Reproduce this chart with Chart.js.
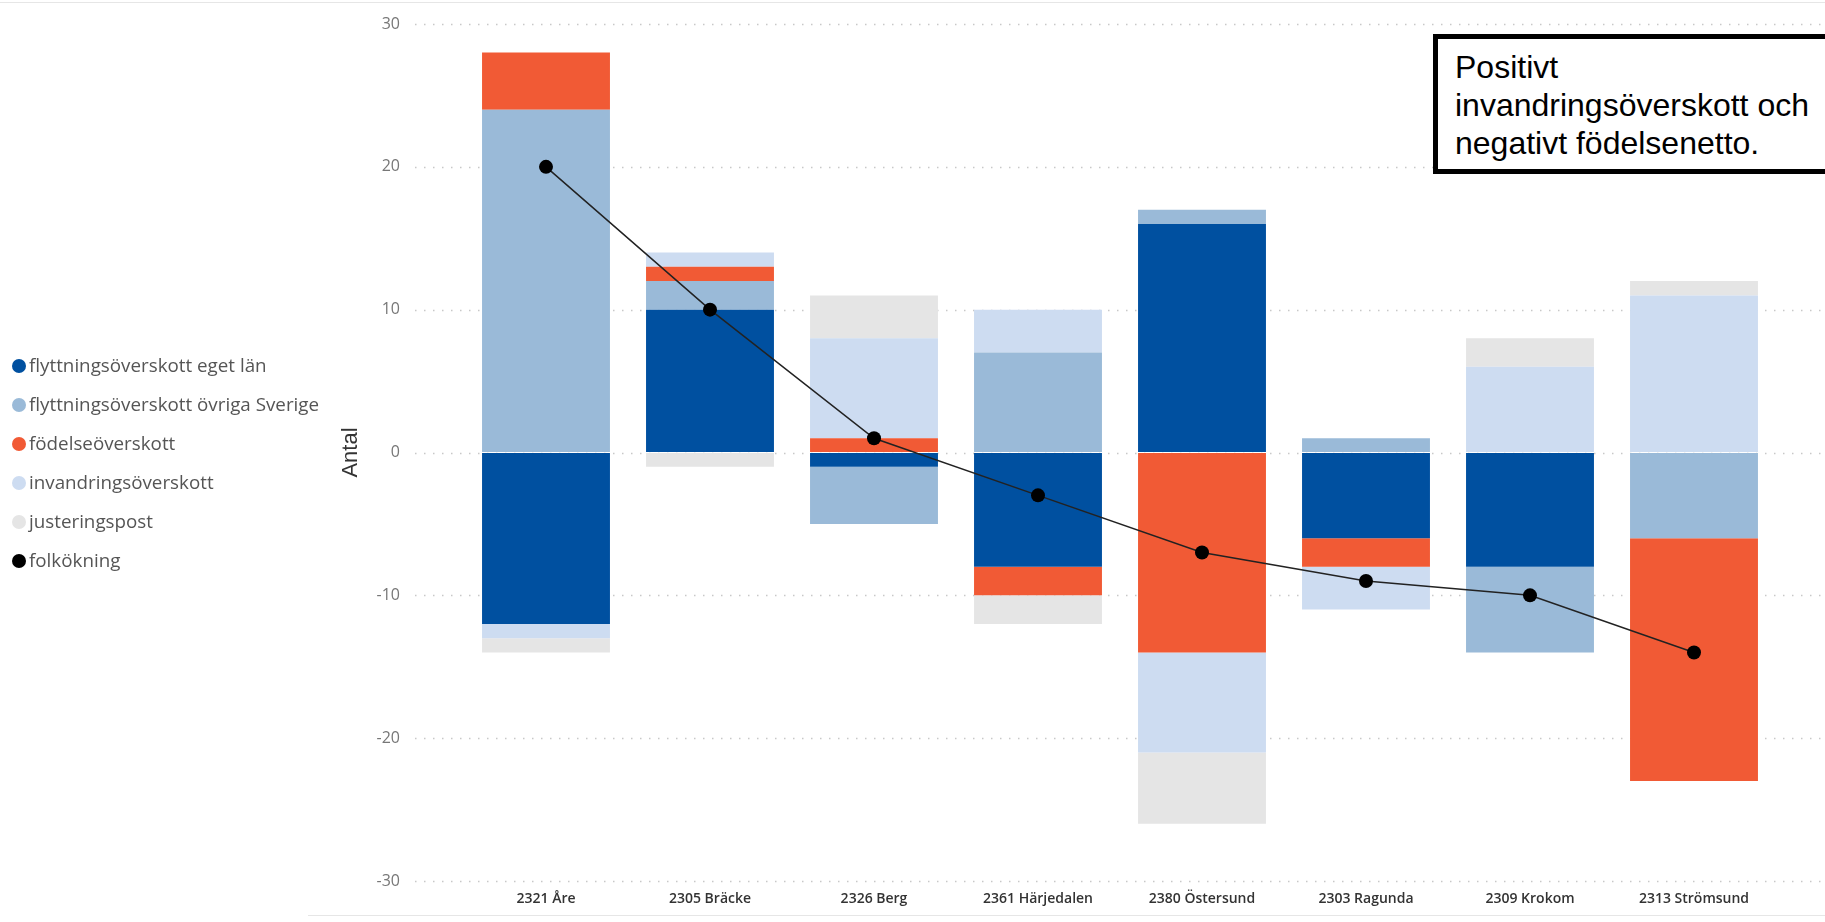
<!DOCTYPE html>
<html>
<head>
<meta charset="utf-8">
<script src="https://cdn.jsdelivr.net/npm/chart.js@4.4.1/dist/chart.umd.min.js"></script>
<style>
  html, body { margin: 0; padding: 0; background: #fff; overflow: hidden; }
  #wrap { position: relative; width: 1825px; height: 922px; }
  #legend { position: absolute; left: 12px; top: 352px; font-family: "Open Sans", "Noto Sans", sans-serif; font-size: 18.8px; color: #555; }
  #legend div { height: 39px; line-height: 26px; white-space: nowrap; }
  #legend span { display: inline-block; width: 14px; height: 14px; border-radius: 50%; margin-right: 3px; vertical-align: -1px; }
  #note { position: absolute; left: 1433px; top: 34px; width: 420px; height: 140px; border: 5px solid #000;
          font-family: "Liberation Sans", Arial, sans-serif; font-size: 32px; line-height: 38px; color: #000;
          padding: 9px 0 0 17px; box-sizing: border-box; background: #fff; }
  .rule { position: absolute; height: 1px; background: #e6e6e6; }
</style>
</head>
<body>
<div id="wrap">
  <div class="rule" style="left:0; top:2px; width:1825px;"></div>
  <div class="rule" style="left:308px; top:915px; width:1517px;"></div>
  <canvas id="chart" width="1825" height="922"></canvas>
  <div id="legend"></div>
  <div id="note">Positivt<br>invandringsöverskott och<br>negativt födelsenetto.</div>
</div>
<script>
const kommuner = ['2321 Åre', '2305 Bräcke', '2326 Berg', '2361 Härjedalen', '2380 Östersund', '2303 Ragunda', '2309 Krokom', '2313 Strömsund'];
const egetLan     = [-12, 10, -1, -8, 16, -6, -8, 0];
const ovrigaSverige = [24, 2, -4, 7, 1, 1, -6, -6];
const fodelse     = [4, 1, 1, -2, -14, -2, 0, -17];
const invandring  = [-1, 1, 7, 3, -7, -3, 6, 11];
const justering   = [-1, -1, 3, -2, -5, 0, 2, 1];
const folkokning  = [20, 10, 1, -3, -7, -9, -10, -14];
const yTicks = [-30, -20, -10, 0, 10, 20, 30];

const colors = {
    egetLan: '#0050A0',
    ovriga: '#9ABAD8',
    fodelse: '#F15A35',
    invandring: '#CDDCF1',
    justering: '#E5E5E5',
    folk: '#000000'
};

const barSets = [
    ['flyttningsöverskott eget län', egetLan, colors.egetLan],
    ['flyttningsöverskott övriga Sverige', ovrigaSverige, colors.ovriga],
    ['födelseöverskott', fodelse, colors.fodelse],
    ['invandringsöverskott', invandring, colors.invandring],
    ['justeringspost', justering, colors.justering]
];

const datasets = barSets.map(([label, data, color]) => ({
    type: 'bar',
    label: label,
    data: data,
    backgroundColor: color,
    borderWidth: 0,
    stack: 'komp',
    order: 1,
    barPercentage: 0.78,
    categoryPercentage: 1
}));
datasets.push({
    type: 'line',
    label: 'folkökning',
    data: folkokning,
    borderColor: '#222',
    borderWidth: 1.5,
    backgroundColor: colors.folk,
    pointRadius: 7,
    pointBackgroundColor: colors.folk,
    pointBorderWidth: 0,
    stack: 'linje',
    order: 0,
    tension: 0
});

// html legend
const legendEl = document.getElementById('legend');
datasets.forEach(ds => {
    const row = document.createElement('div');
    row.innerHTML = '<span style="background:' + (ds.type === 'line' ? colors.folk : ds.backgroundColor) + '"></span>' + ds.label;
    legendEl.appendChild(row);
});

// dotted grid across full width
const dottedGrid = {
    id: 'dottedGrid',
    beforeDatasetsDraw(chart) {
        const ctx = chart.ctx;
        const y = chart.scales.y;
        ctx.save();
        ctx.strokeStyle = '#c8c8c8';
        ctx.lineWidth = 1.5;
        ctx.setLineDash([1.5, 7.5]);
        yTicks.forEach(v => {
            const py = Math.round(y.getPixelForValue(v)) + 0.5;
            ctx.beginPath();
            ctx.moveTo(415, py);
            ctx.lineTo(1825, py);
            ctx.stroke();
        });
        ctx.restore();
    }
};

const ctx = document.getElementById('chart').getContext('2d');
new Chart(ctx, {
    data: { labels: kommuner, datasets: datasets },
    plugins: [dottedGrid],
    options: {
        responsive: false,
        animation: false,
        layout: { padding: { left: 330, top: 24, right: 49, bottom: 0 } },
        plugins: { legend: { display: false }, tooltip: { enabled: false } },
        scales: {
            x: {
                stacked: true,
                grid: { display: false, drawTicks: false },
                border: { display: false },
                ticks: {
                    padding: 10,
                    color: '#333',
                    font: { family: 'Open Sans', size: 14, weight: '600' },
                    maxRotation: 0
                },
                afterFit(scale) { scale.height = 41; }
            },
            y: {
                stacked: true,
                min: -30,
                max: 30,
                grid: { display: true, drawOnChartArea: false, drawTicks: true, tickLength: 58, color: 'rgba(0,0,0,0)' },
                border: { display: false },
                ticks: {
                    stepSize: 10,
                    padding: 6,
                    color: '#777',
                    font: { family: 'Open Sans', size: 16 }
                },
                title: {
                    display: true,
                    text: 'Antal',
                    color: '#333',
                    font: { family: 'Liberation Sans Narrow, Liberation Sans', size: 22 },
                    padding: { top: 8, bottom: 0 }
                },
                afterFit(scale) { scale.width = 134; }
            }
        }
    }
});
</script>
</body>
</html>
